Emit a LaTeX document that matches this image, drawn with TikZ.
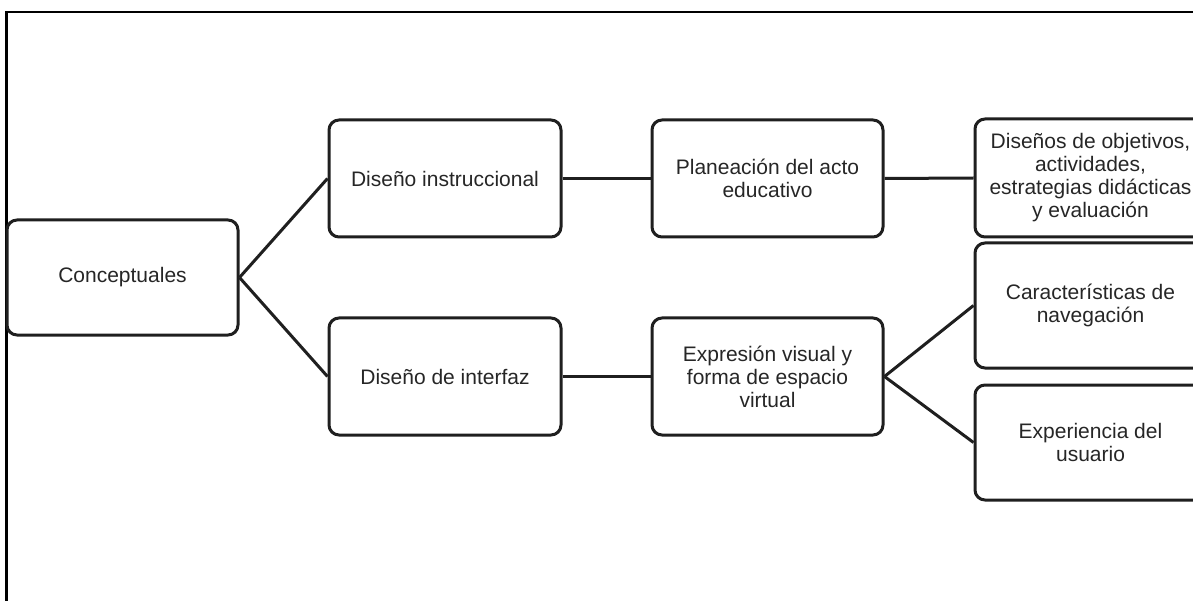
\documentclass[tikz,border=0pt]{standalone}
\usepackage{fontspec}
\setmainfont{Liberation Sans}
\begin{document}
\begin{tikzpicture}[x=1pt,y=-1pt,
  box/.style={draw=black!88, line width=3pt, rounded corners=10pt,
    minimum width=231pt, minimum height=117pt, align=center,
    font=\fontsize{21}{23}\selectfont, text=black!85, inner sep=0pt},
  link/.style={draw=black!88, line width=3pt},
  frame/.style={draw=black, line width=2.5pt}]
\useasboundingbox (0,0) rectangle (1193,601);
\clip (0,0) rectangle (1193,601);
\draw[frame] (6.5,12) rectangle (1300,700);
\node[box, minimum height=115pt] (c) at (122.5,277.5) {Conceptuales};
\node[box, minimum width=232pt] (di) at (445,178.5) {Dise\~no instruccional};
\node[box, minimum width=232pt] (dint) at (445,376.5) {Dise\~no de interfaz};
\node[box] (pl) at (767.5,178.5) {Planeaci\'on del acto\\educativo};
\node[box] (ex) at (767.5,376.5) {Expresi\'on visual y\\forma de espacio\\virtual};
\node[box, minimum height=118pt] (dob) at (1090.5,178) {Dise\~nos de objetivos,\\actividades,\\estrategias did\'acticas\\y evaluaci\'on};
\node[box, minimum height=125pt] (car) at (1090.5,305.5) {Caracter\'isticas de\\navegaci\'on};
\node[box, minimum height=115pt] (exp) at (1090.5,442.5) {Experiencia del\\usuario};
\draw[link] (c.east) -- (di.west);
\draw[link] (c.east) -- (dint.west);
\draw[link] (di.east) -- (pl.west);
\draw[link] (dint.east) -- (ex.west);
\draw[link] (pl.east) -- (dob.west);
\draw[link] (ex.east) -- (car.west);
\draw[link] (ex.east) -- (exp.west);
\end{tikzpicture}
\end{document}
